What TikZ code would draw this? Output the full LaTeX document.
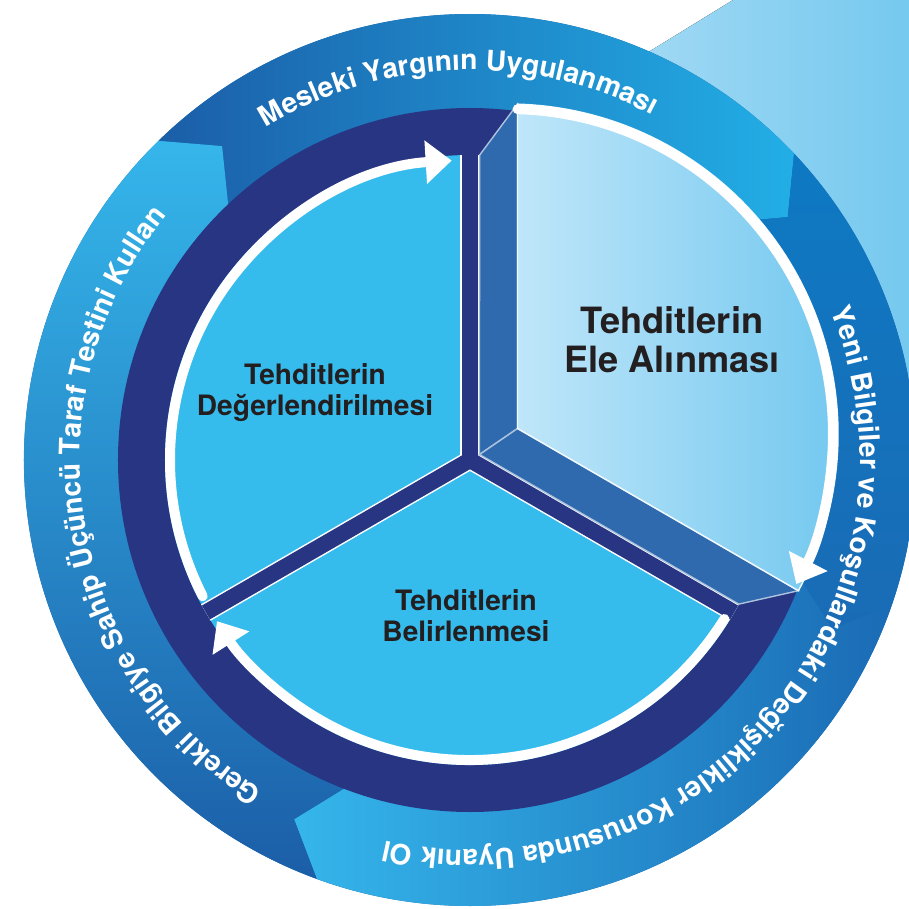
\documentclass[tikz,border=0pt]{standalone}
\usepackage{fontspec}
\setmainfont{TeX Gyre Heros}
\usetikzlibrary{calc, arrows.meta, decorations.text}

\definecolor{navy}{HTML}{283583}
\definecolor{sectorcol}{HTML}{35BCED}
\definecolor{sidecol}{HTML}{2F6AAE}
\definecolor{frontl}{HTML}{BFE6F9}
\definecolor{frontr}{HTML}{69C4EE}
\definecolor{beaml}{HTML}{B3E0F6}
\definecolor{beamr}{HTML}{6CC5EE}
\definecolor{ringdark}{HTML}{1B5EA8}
\definecolor{ringlight}{HTML}{35B6EB}
\definecolor{ringhead}{HTML}{22AEE6}
\definecolor{ringmid}{HTML}{0E79C3}
\definecolor{ringmidb}{HTML}{1A6BB5}
\definecolor{labelcol}{HTML}{231F20}

\newcommand{\ringfont}{\bfseries\fontsize{8}{9}\selectfont}

\begin{document}
\begin{tikzpicture}[
  stagetext/.style={text=labelcol, align=center, inner sep=0pt, font=\bfseries\fontsize{8}{8.8}\selectfont},
  ringtext/.style={decorate, decoration={text along path, text align=center, text color=white, text={|\ringfont|#1}}},
  segtop/.style={left color=ringdark, right color=ringhead},
  segright/.style={top color=ringmid, bottom color=ringmidb},
  segbottom/.style={left color=ringlight, right color=ringmidb},
  segleft/.style={top color=ringlight, bottom color=ringdark},
  spokeedge/.style={white, line width=1.9mm},
  spoke/.style={navy, line width=1.6mm},
  turnarrow/.style={white, line width=1mm, line cap=round, -{Triangle[width=4.2mm, length=2.6mm]}},
  sweep/.style={fill=sidecol, draw=white!60!sidecol, line width=0.4pt},
  frontside/.style={left color=frontl, right color=frontr, draw=white!80!frontl, line width=0.4pt},
  beam/.style={left color=beaml, right color=beamr}
]
\useasboundingbox (-4.70,-4.49) rectangle (4.39,4.60);
\clip (-4.70,-4.49) rectangle (4.39,4.60);

% pulled-out slice
\coordinate (cf) at (0.38,0.26);
\coordinate (ba) at (30:0.11);
\coordinate (bt) at (88.2:3.05);
\coordinate (bl) at (-28.2:3.05);
\coordinate (fa) at ($(cf)+(30:0.11)$);
\coordinate (ft) at ($(cf)+(88.35:3.30)$);
\coordinate (fl) at ($(cf)+(-28.35:3.30)$);
\fill[beam] (0.5,3.29) -- (3.2,4.95) -- (5.0,4.95) -- (5.0,-0.25) -- (fl) -- cycle;

% outer ring
\fill[ringmidb] (0,0) circle (4.46);
\foreach \ta/\hd/\sty in {128.3/37.4/segtop, 37.4/-25/segright, -25/-116.1/segbottom, 243.9/128.3/segleft}
  \path[\sty] (\ta+6:4.46) arc[start angle=\ta+6, end angle=\hd+6, radius=4.46]
    -- (\hd:4.0) -- (\hd+6:3.45) arc[start angle=\hd+6, end angle=\ta+6, radius=3.45]
    -- (\ta:4.0) -- cycle;

\path[ringtext={Mesleki Yargının Uygulanması}] (150:3.90) arc[start angle=150, end angle=33.6, radius=3.90];
\path[ringtext={Yeni Bilgiler ve Koşullardaki Değişiklikler Konusunda Uyanık Ol}] (40:3.90) arc[start angle=40, end angle=-120, radius=3.90];
\path[ringtext={Gerekli Bilgiye Sahip Üçüncü Taraf Testini Kullan}] (260:3.90) arc[start angle=260, end angle=119, radius=3.90];

% inner wheel
\fill[navy] (0,0) circle (3.52);
\fill[sectorcol] (0,0) circle (3.05);
\fill[sidecol] (0,0) -- (-30:3.05) arc[start angle=-30, end angle=90, radius=3.05] -- cycle;
\foreach \ang in {90,210,330}
  \draw[spokeedge] (0,0) -- (\ang:3.05);
\foreach \ang in {90,210,330}
  \draw[spoke] (0,0) -- (\ang:3.05);

\filldraw[sweep] (ba) -- (bt) -- (ft) -- (fa) -- cycle;
\filldraw[sweep] (ba) -- (bl) -- (fl) -- (fa) -- cycle;
\path[frontside] (fa) -- (fl) arc[start angle=-28.35, end angle=88.35, radius=3.30] -- cycle;

% cycle arrows
\draw[turnarrow] (207:3.0) arc[start angle=207, end angle=93.5, radius=3.0];
\draw[turnarrow] (328:3.0) arc[start angle=328, end angle=212.5, radius=3.0];
\draw[turnarrow] ($(cf)+(88.3:3.25)$) arc[start angle=88.3, end angle=-27.5, radius=3.25];

\node[stagetext] (assess) at (-1.55,0.67) {Tehditlerin\\Değerlendirilmesi};
\node[stagetext] (identify) at (-0.04,-1.56) {Tehditlerin\\Belirlenmesi};
\node[stagetext, font=\bfseries\fontsize{10.3}{11.1}\selectfont] (address) at (2.02,1.20) {Tehditlerin\\Ele Alınması};
\end{tikzpicture}
\end{document}
